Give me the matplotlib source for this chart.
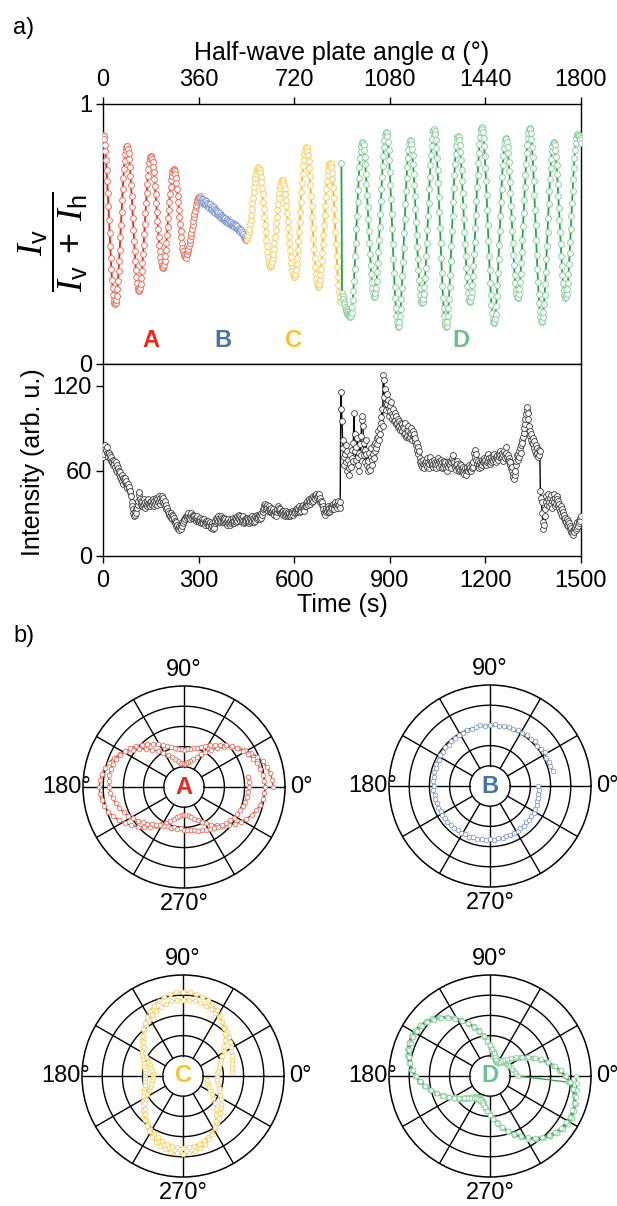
import numpy as np
import matplotlib
matplotlib.use("Agg")
import matplotlib.pyplot as plt

plt.rcParams['font.family'] = ['Liberation Sans', 'DejaVu Sans']
plt.rcParams['mathtext.fontset'] = 'custom'
plt.rcParams['mathtext.rm'] = 'Liberation Sans'
plt.rcParams['mathtext.it'] = 'Liberation Serif:italic'
plt.rcParams['mathtext.bf'] = 'Liberation Sans:bold'

# ---------------- data ----------------
ALPHA_STEP = 2.25      # degrees of half-wave plate per frame
TIME_STEP = 1.875      # seconds per frame

seg_names = ['A', 'B', 'C', 'D']
seg_start = [0, 163, 241, 399]   # frame index where each segment starts

ratio_A = [
    .88, .876, .864, .844, .818, .785, .746, .703, .656, .606, .555, .504, .454, .407, .364, .325, .292, .266, .246, .234, .23,
    .234, .245, .263, .288, .319, .356, .397, .440, .487, .535, .583, .630, .673, .714, .751, .782, .807, .825, .836, .84,
    .837, .827, .810, .787, .758, .725, .687, .647, .604, .560, .516, .473, .433, .395, .362, .333, .310, .293, .283, .28,
    .283, .292, .308, .329, .356, .387, .422, .459, .499, .540, .581, .621, .658, .693, .724, .751, .772, .788, .797, .80,
    .797, .790, .777, .759, .737, .711, .683, .652, .619, .585, .551, .518, .487, .459, .433, .411, .393, .380, .373, .37,
    .373, .381, .395, .414, .438, .465, .495, .527, .560, .593, .625, .655, .682, .706, .725, .739, .747, .75,
    .748, .741, .730, .714, .695, .673, .648, .622, .594, .566, .538, .512, .487, .465, .446, .436, .419, .425, .41,
    .418, .408, .422, .425, .436, .442, .453, .465, .477, .491, .505, .520, .535, .550, .564, .578, .590, .602, .613, .623,
    .630, .637, .641, .644, .645]

ratio_B = [
    .640, .628, .633, .621, .636, .624, .615, .629, .618, .626,
    .611, .620, .606, .617, .609, .600, .614, .603, .596, .608,
    .598, .590, .603, .586, .595, .582, .591, .578, .588, .574,
    .583, .570, .579, .566, .575, .562, .571, .558, .567, .555,
    .563, .551, .560, .548, .557, .545, .554, .543, .551, .539,
    .548, .536, .545, .533, .542, .530, .539, .528, .536, .524,
    .533, .521, .529, .518, .525, .513, .520, .508, .514, .502,
    .507, .496, .499, .489, .491, .482, .484, .476]

ratio_C = [
    .482, .487, .495, .506, .520, .537, .555, .575, .596, .618, .640, .661, .681, .699, .716, .730, .741, .749, .754, .756,
    .754, .747, .735, .720, .700, .677, .652, .624, .595, .565, .535, .506, .478, .453, .430, .410, .395, .383, .376, .374,
    .376, .382, .392, .406, .423, .443, .465, .489, .515, .541, .567, .593, .617, .639, .659, .676, .690, .700, .706, .708,
    .706, .699, .688, .673, .654, .631, .606, .580, .551, .522, .493, .464, .438, .413, .390, .371, .356, .345, .338, .336,
    .339, .348, .363, .383, .409, .438, .472, .507, .546, .585, .623, .662, .697, .731, .760, .786, .806, .821, .830, .833,
    .830, .820, .804, .782, .755, .723, .687, .648, .607, .565, .523, .482, .443, .407, .375, .348, .326, .310, .300, .297,
    .300, .308, .323, .342, .366, .395, .427, .461, .497, .535, .572, .608, .642, .674, .703, .727, .746, .761, .769, .772,
    .768, .756, .736, .710, .677, .639, .597, .552, .506, .460, .415, .373, .335, .302, .276, .256, .244, .240]

ratio_D = [
    .775,
    .275, .262, .250, .239, .229, .220, .212, .205, .199, .194, .190, .187, .184, .183, .182,
    .186, .198, .218, .246, .280, .321, .366, .414, .466, .519, .571, .623, .671, .716, .757, .791, .819, .839, .851, .855,
    .851, .841, .823, .798, .768, .732, .692, .649, .603, .557, .511, .465, .422, .382, .346, .316, .291, .273, .263, .259,
    .263, .274, .293, .319, .352, .390, .432, .478, .527, .577, .626, .675, .721, .763, .801, .834, .860, .879, .890, .894,
    .889, .876, .853, .823, .784, .739, .689, .635, .577, .519, .460, .403, .349, .298, .253, .215, .184, .162, .148, .144,
    .148, .161, .183, .212, .249, .292, .340, .392, .447, .503, .559, .614, .666, .714, .757, .794, .823, .845, .858, .862,
    .858, .847, .828, .802, .770, .732, .690, .645, .597, .547, .498, .450, .405, .363, .325, .293, .267, .248, .237, .233,
    .237, .249, .269, .297, .331, .371, .416, .464, .516, .568, .620, .672, .720, .765, .805, .839, .867, .887, .899, .903,
    .898, .885, .862, .831, .792, .747, .696, .641, .583, .523, .464, .406, .351, .300, .255, .216, .185, .162, .149, .144,
    .148, .162, .184, .214, .251, .295, .344, .397, .453, .511, .568, .624, .677, .726, .770, .807, .837, .859, .873, .877,
    .873, .862, .843, .816, .784, .746, .703, .657, .608, .558, .509, .460, .414, .371, .333, .301, .274, .255, .244, .240,
    .244, .256, .276, .304, .338, .378, .423, .471, .523, .575, .627, .679, .727, .772, .812, .846, .874, .894, .906, .910,
    .905, .892, .869, .838, .800, .755, .704, .650, .592, .533, .474, .416, .362, .311, .266, .228, .197, .174, .161, .156,
    .160, .173, .194, .224, .260, .303, .350, .402, .456, .512, .568, .622, .674, .721, .764, .800, .830, .851, .864, .868,
    .864, .853, .835, .810, .778, .741, .700, .656, .608, .560, .513, .465, .421, .380, .343, .311, .286, .268, .257, .253,
    .257, .269, .288, .315, .348, .388, .431, .478, .529, .580, .630, .681, .728, .771, .811, .844, .871, .890, .902, .906,
    .902, .888, .866, .835, .798, .753, .703, .650, .592, .534, .477, .419, .366, .316, .271, .234, .203, .181, .167, .163,
    .167, .180, .200, .229, .264, .306, .352, .402, .455, .509, .563, .616, .666, .712, .754, .789, .818, .838, .851, .855,
    .851, .841, .822, .798, .767, .731, .691, .647, .601, .554, .507, .461, .417, .377, .341, .310, .286, .267, .257, .253,
    .257, .268, .287, .313, .345, .383, .426, .471, .520, .569, .618, .667, .712, .755, .793, .825, .851, .870, .881, .885,
    .884, .881, .876, .869, .860, .849]

intensity = [
    70, 74, 72, 76, 78, 75, 73, 77, 72, 70, 73, 69, 71, 67, 70, 66, 68, 64, 67, 65,
    63, 66, 61, 64, 59, 62, 58, 60, 56, 59, 54, 57, 53, 55, 51, 54, 52, 55, 51, 53,
    50, 48, 51, 47, 49, 45, 46, 42, 38, 35, 33, 30, 28, 31, 29, 33, 30, 34, 36, 39,
    43, 45, 40, 37, 39, 35, 38, 36, 40, 37, 34, 38, 36, 39, 35, 37, 40, 36, 38, 35,
    37, 39, 36, 40, 38, 35, 39, 37, 41, 38, 36, 40, 38, 42, 39, 37, 41, 39, 42, 40,
    38, 41, 37, 39, 35, 36, 33, 34, 31, 32, 29, 30, 28, 30, 27, 29, 26, 28, 25, 27,
    25, 23, 24, 21, 22, 20, 19, 21, 18, 20, 19, 22, 21, 24, 23, 26, 25, 27, 26, 28,
    27, 29, 28, 30, 27, 29, 26, 28, 30, 27, 29, 28, 26, 28, 27, 25, 27, 26, 28, 25,
    26, 24, 27, 25, 23, 26, 24, 25, 23, 26, 24, 22, 25, 23, 24, 22, 25, 23, 21, 24,
    22, 20, 23, 21, 19, 22, 20, 23, 25, 27, 24, 26, 28, 25, 27, 24, 26, 28, 25, 27,
    26, 24, 27, 25, 23, 26, 24, 22, 25, 23, 26, 24, 22, 25, 23, 26, 24, 27, 25, 23,
    25, 27, 24, 26, 28, 25, 27, 29, 26, 28, 25, 27, 24, 26, 28, 25, 23, 26, 24, 27,
    25, 27, 24, 26, 23, 25, 27, 24, 26, 28, 25, 27, 24, 26, 28, 25, 27, 29, 26, 28,
    27, 29, 26, 28, 30, 27, 29, 31, 33, 36, 34, 37, 35, 33, 36, 34, 32, 35, 33, 31,
    33, 31, 34, 32, 30, 33, 31, 29, 32, 30, 28, 31, 33, 35, 32, 34, 31, 33, 30, 32,
    31, 29, 32, 30, 28, 31, 29, 32, 30, 28, 31, 29, 30, 28, 31, 29, 32, 30, 29, 31,
    30, 32, 31, 33, 31, 34, 32, 33, 35, 33, 31, 34, 32, 35, 33, 36, 34, 32, 35, 37,
    35, 37, 39, 36, 38, 40, 37, 39, 41, 38, 40, 42, 39, 41, 43, 40, 42, 44, 41, 43,
    42, 44, 40, 38, 41, 39, 36, 38, 35, 33, 30, 32, 29, 31, 34, 32, 35, 33, 31, 34,
    32, 35, 33, 36, 34, 37, 35, 33, 36, 38, 35, 37, 34, 36, 39, 36, 34, 38, 116, 104,
    95, 82, 76, 70, 64, 72, 78, 66, 60, 74, 68, 62, 57, 65, 71, 63, 69, 75, 67, 80,
    101, 86, 74, 68, 77, 83, 70, 64, 60, 73, 79, 71, 85, 96, 99, 92, 80, 71, 66, 75,
    82, 72, 64, 60, 67, 73, 63, 61, 70, 76, 68, 64, 72, 78, 69, 74, 80, 76, 83, 79,
    84, 88, 82, 90, 86, 94, 98, 104, 92, 128, 124, 112, 118, 108, 103, 114, 107, 110, 104, 99,
    106, 102, 109, 100, 97, 104, 99, 95, 101, 96, 93, 99, 94, 97, 91, 95, 92, 89, 94, 90,
    93, 88, 91, 86, 90, 94, 87, 84, 89, 85, 92, 88, 83, 87, 84, 90, 86, 82, 85, 88,
    84, 86, 81, 83, 78, 80, 75, 77, 72, 74, 69, 66, 64, 67, 63, 65, 68, 64, 62, 66,
    64, 67, 63, 69, 66, 62, 65, 68, 70, 66, 64, 67, 63, 65, 68, 64, 66, 62, 65, 67,
    69, 65, 67, 63, 66, 68, 64, 62, 66, 63, 65, 67, 64, 66, 62, 60, 64, 66, 63, 65,
    67, 64, 62, 66, 69, 71, 67, 64, 66, 63, 61, 64, 67, 65, 62, 60, 63, 65, 61, 64,
    62, 60, 63, 59, 61, 58, 62, 60, 57, 61, 63, 60, 62, 64, 61, 63, 60, 62, 65, 63,
    66, 73, 75, 70, 72, 68, 65, 63, 67, 64, 62, 66, 63, 65, 68, 64, 66, 69, 67, 65,
    68, 64, 66, 70, 67, 72, 69, 65, 67, 70, 66, 68, 71, 67, 69, 72, 68, 70, 66, 69,
    71, 68, 72, 70, 74, 71, 69, 73, 70, 67, 71, 74, 72, 69, 77, 73, 70, 68, 71, 69,
    67, 64, 66, 62, 60, 63, 58, 56, 54, 57, 60, 64, 67, 71, 68, 72, 70, 74, 76, 73,
    78, 82, 80, 84, 87, 90, 93, 97, 100, 103, 105, 101, 97, 92, 88, 85, 82, 86, 80, 83,
    79, 76, 81, 74, 78, 72, 76, 73, 70, 75, 71, 74, 46, 41, 38, 30, 24, 19, 22, 28,
    33, 38, 42, 36, 40, 44, 38, 35, 41, 37, 43, 39, 34, 40, 44, 38, 35, 41, 37, 42,
    40, 36, 39, 34, 37, 32, 35, 30, 33, 28, 31, 27, 29, 25, 27, 24, 26, 22, 25, 21,
    23, 19, 21, 17, 20, 16, 18, 15, 19, 17, 20, 18, 22, 20, 24, 21, 25, 23, 27, 25,
    28]

alpha_ticks = [0, 360, 720, 1080, 1440, 1800]
time_ticks = [0, 300, 600, 900, 1200, 1500]
ratio_ticks = [0, 1]
int_ticks = [0, 60, 120]
ring_radii = [0.2, 0.4, 0.6, 0.8]
spoke_angles = [0, 30, 60, 90, 120, 150, 180, 210, 240, 270, 300, 330]
polar_tick_angles = [0, 90, 180, 270]
polar_tick_labels = ['0°', '90°', '180°', '270°']

# ---------------- styles ----------------
line_colors = ['#e8261e', '#3a62a8', '#f7b515', '#2aa24e']
marker_colors = ['#ef6e5c', '#7e98cc', '#fbcf62', '#8ccf9e']
letter_colors = ['#e8281f', '#4573ab', '#f9c12c', '#6cc08a']
TICK_FS = 17
LABEL_FS = 18

W, H = 617, 1206
fig = plt.figure(figsize=(W / 100, H / 100), dpi=100)

def fx(px):
    return px / W

def fy(py):
    return 1 - py / H

segments = [ratio_A, ratio_B, ratio_C, ratio_D]
seg_alpha = [(s + np.arange(len(v))) * ALPHA_STEP for s, v in zip(seg_start, segments)]

# ---------------- panel a: ratio ----------------
ax1 = fig.add_axes([fx(103), fy(364), fx(478), 260 / H])
for i, (a, v) in enumerate(zip(seg_alpha, segments)):
    ax1.plot(a, v, '-', color=line_colors[i], lw=1.3, marker='o', ms=4.2,
             mfc='white', mec=marker_colors[i], mew=0.7, zorder=3)
    ax1.text((a[0] + a[-1]) / 2, 0.09, seg_names[i], color=letter_colors[i],
             fontsize=17, fontweight='bold', ha='center', va='center')
ax1.set_xlim(0, 1800)
ax1.set_ylim(0, 1)
ax1.xaxis.tick_top()
ax1.xaxis.set_label_position('top')
ax1.set_xticks(alpha_ticks)
ax1.set_yticks(ratio_ticks)
ax1.set_xlabel('Half-wave plate angle α (°)', fontsize=LABEL_FS, labelpad=7)
ax1.tick_params(axis='x', top=True, bottom=False, direction='out', length=5, width=1,
                labelsize=TICK_FS, pad=4)
ax1.tick_params(axis='y', left=True, right=False, direction='out', length=5, width=1,
                labelsize=TICK_FS, pad=3)
for sp in ax1.spines.values():
    sp.set_linewidth(1.0)

fig.text(fx(53), fy(242),
         r'$\dfrac{I_\mathrm{v}}{I_\mathrm{v}\;+\;I_\mathrm{h}}$',
         rotation=90, ha='center', va='center', fontsize=26)

# ---------------- panel a: intensity ----------------
time = np.arange(len(intensity)) * TIME_STEP
ax2 = fig.add_axes([fx(103), fy(556), fx(478), 192 / H])
ax2.plot(time, intensity, '-', color='black', lw=1.0, marker='o', ms=4.2,
         mfc='white', mec='#3a3a3a', mew=0.6, zorder=3)
ax2.set_xlim(0, 1500)
ax2.set_ylim(0, 135.5)
ax2.set_xticks(time_ticks)
ax2.set_yticks(int_ticks)
ax2.set_xlabel('Time (s)', fontsize=LABEL_FS, labelpad=1)
ax2.tick_params(axis='both', direction='out', length=5, width=1, labelsize=TICK_FS)
ax2.tick_params(axis='x', pad=5)
ax2.tick_params(axis='y', pad=3)
for sp in ax2.spines.values():
    sp.set_linewidth(1.0)
fig.text(fx(33), fy(462), 'Intensity (arb. u.)', rotation=90, ha='center', va='center',
         fontsize=LABEL_FS)

fig.text(fx(13), fy(28), 'a)', fontsize=TICK_FS, ha='left', va='center')
fig.text(fx(13), fy(636), 'b)', fontsize=TICK_FS, ha='left', va='center')

# ---------------- panel b: polar plots ----------------
centers = [(184, 787), (490, 786), (183, 1076), (490, 1076)]
R = 101
theta_fine = np.linspace(0, 2 * np.pi, 361)
for i, (cx, cy) in enumerate(centers):
    axp = fig.add_axes([fx(cx - R), fy(cy + R), fx(2 * R), 2 * R / H], projection='polar')
    axp.set_ylim(0, 1)
    axp.grid(False)
    axp.set_yticks([])
    axp.set_xticks(np.deg2rad(polar_tick_angles))
    axp.set_xticklabels(polar_tick_labels, fontsize=TICK_FS)
    axp.tick_params(axis='x', pad=1)
    axp.spines['polar'].set_linewidth(1.1)
    for rr in ring_radii:
        axp.plot(theta_fine, np.full_like(theta_fine, rr), color='black', lw=1.0, zorder=1)
    for ang in spoke_angles:
        axp.plot([np.deg2rad(ang)] * 2, [ring_radii[0], 1.0], color='black', lw=1.0, zorder=1)
    th = np.deg2rad(2 * seg_alpha[i])
    axp.plot(th, segments[i], '-', color=line_colors[i], lw=0.9, marker='o', ms=3.3,
             mfc='white', mec=marker_colors[i], mew=0.6, zorder=3)
    axp.text(0, 0, seg_names[i], color=letter_colors[i], fontsize=17, fontweight='bold',
             ha='center', va='center', zorder=5)

fig.savefig('out.png', dpi=100)
